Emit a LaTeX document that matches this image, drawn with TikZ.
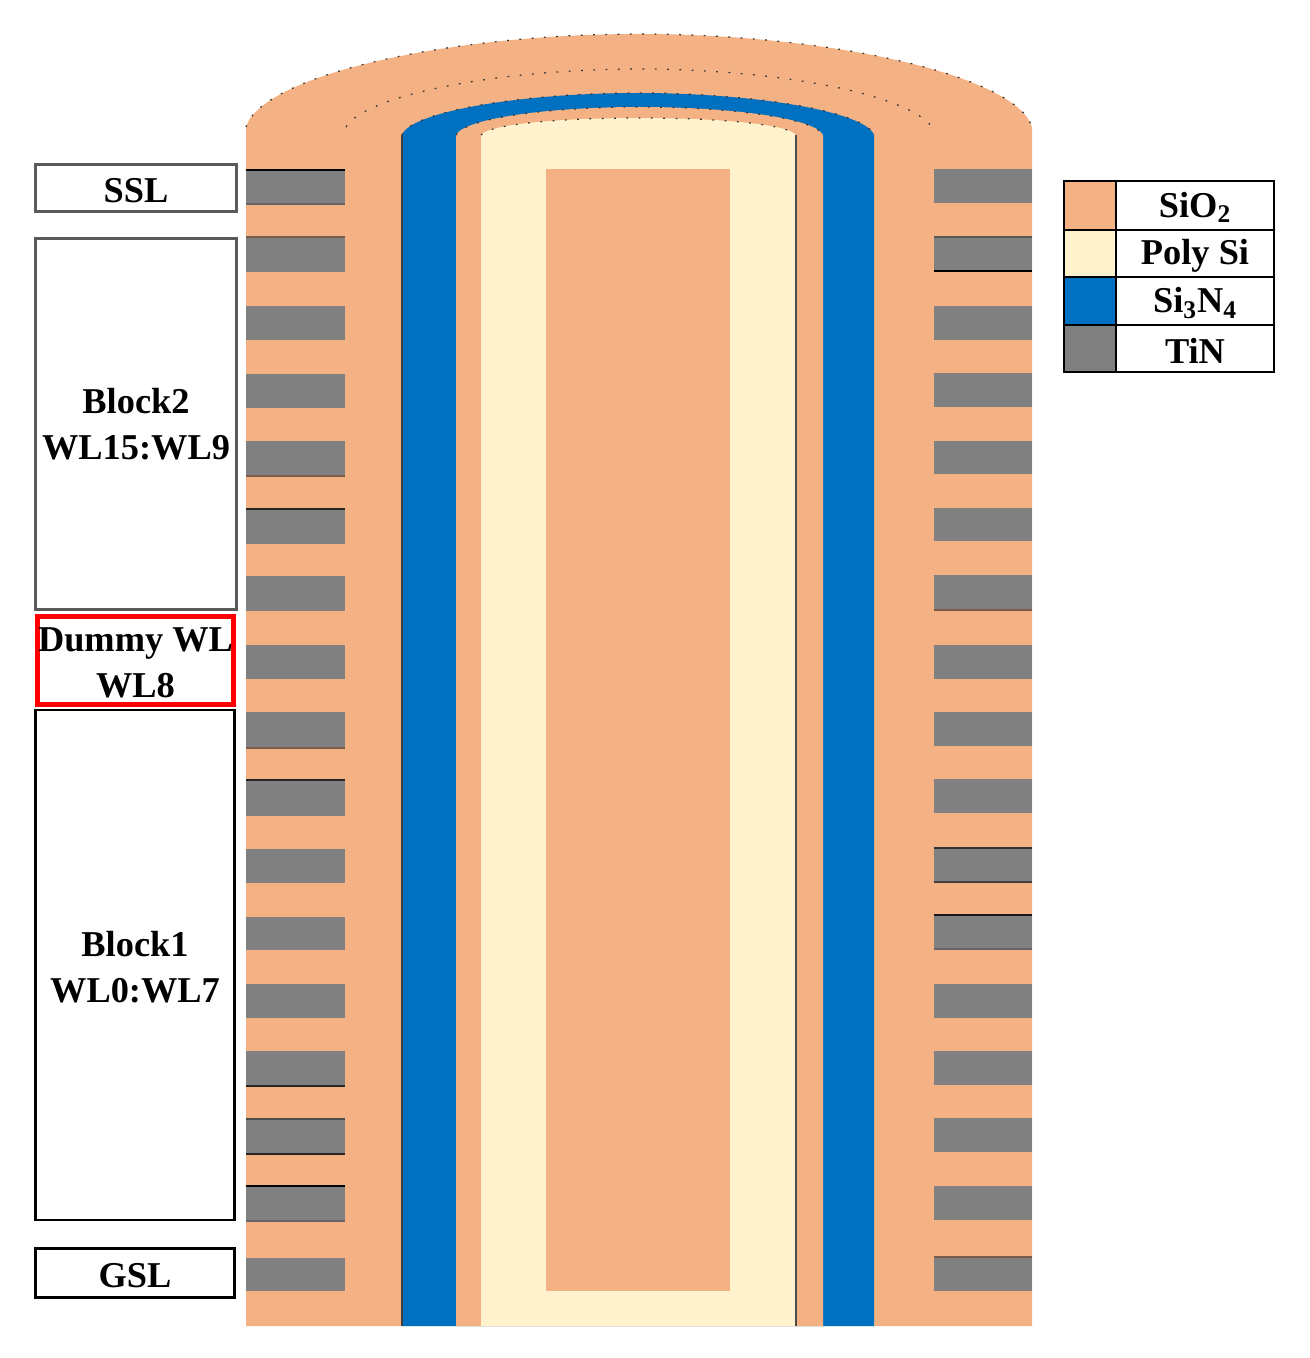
\documentclass[tikz,border=0pt]{standalone}
\usepackage{fontspec}
\setmainfont{Liberation Serif}
\definecolor{oxide}{HTML}{F4B183}
\definecolor{poly}{HTML}{FFF2CC}
\definecolor{nitride}{HTML}{0070C0}
\definecolor{metal}{HTML}{808080}
\definecolor{rust}{HTML}{7A5A48}
\tikzset{
  wlbox/.style={draw=black, line width=0.05cm, fill=white, inner sep=0pt, align=center,
    font=\fontsize{20.7}{26}\selectfont\bfseries, execute at begin node={\rule{0pt}{0.8em}}},
  swatch/.style={draw=black, line width=0.05cm, minimum width=1.04cm, inner sep=0pt},
  keybox/.style={wlbox, minimum width=3.16cm},
  domeedge/.style={black!80, line width=0.7pt, dash pattern=on 1pt off 6pt}
}
\begin{document}
\begin{tikzpicture}[x=0.02cm, y=-0.02cm]
        \useasboundingbox (0,0) rectangle (1310,1358);
        % Oxide body
        \fill[oxide] (246,1326) -- (246,127) .. controls (262,75) and (450,34) .. (639,34)
          .. controls (828,34) and (1016,75) .. (1032,127) -- (1032,1326) -- cycle;
        \draw[domeedge] (246,127) .. controls (262,75) and (450,34) .. (639,34)
          .. controls (828,34) and (1016,75) .. (1032,127);
        \draw[domeedge] (346,127) .. controls (365,95) and (500,69) .. (639,69)
          .. controls (778,69) and (915,95) .. (934,130);
        % Nitride
        \fill[nitride] (402,1326) -- (402,135) .. controls (410,112) and (520,93) .. (638,93)
          .. controls (756,93) and (866,112) .. (874,135) -- (874,1326) -- cycle;
        \draw[domeedge] (402,135) .. controls (410,112) and (520,93) .. (638,93)
          .. controls (756,93) and (866,112) .. (874,135);
        \draw[black!75, line width=0.7pt] (402,135) -- (402,1326);
        % Inner oxide
        \fill[oxide] (456,1326) -- (456,135) .. controls (465,118) and (550,107) .. (640,107)
          .. controls (730,107) and (815,118) .. (823,135) -- (823,1326) -- cycle;
        \draw[domeedge] (456,135) .. controls (465,118) and (550,107) .. (640,107)
          .. controls (730,107) and (815,118) .. (823,135);
        % Poly channel
        \fill[poly] (481,1326) -- (481,135) .. controls (490,124) and (560,118) .. (639,118)
          .. controls (718,118) and (788,124) .. (796,135) -- (796,1326) -- cycle;
        \draw[domeedge] (481,135) .. controls (490,124) and (560,118) .. (639,118)
          .. controls (718,118) and (788,124) .. (796,135);
        \draw[black!70, line width=0.7pt] (796,135) -- (796,1326);
        % Core
        \fill[oxide] (546,169) rectangle (730,1291);
        % Left gates
        \foreach \ytop/\ybot in {169/205, 237/272, 306/340, 374/408, 441/476, 509/544, 576/611,
          645/679, 712/748, 780/816, 849/883, 917/950, 984/1018, 1051/1086, 1119/1154,
          1186/1221, 1258/1291}
          \fill[metal] (246,\ytop) rectangle (345,\ybot);
        % Right gates
        \foreach \ytop/\ybot in {169/203, 237/271, 306/340, 373/407, 441/474, 508/541, 575/610,
          645/679, 712/746, 779/813, 848/882, 915/949, 984/1018, 1051/1085, 1118/1152,
          1186/1220, 1257/1291}
          \fill[metal] (934,\ytop) rectangle (1032,\ybot);
        % Dark gate edges
        \foreach \y/\col in {170/black, 204/black!60, 237/rust, 476/rust, 509/black!85, 748/rust,
          780/black!85, 1086/black!85, 1119/black!70, 1154/black!85, 1186/black, 1221/black!60}
          \draw[\col, line width=0.9pt] (246,\y) -- (345,\y);
        \foreach \y/\col in {237/black!65, 271/black, 610/rust, 848/black!80, 882/black!75,
          915/black!90, 949/black!60, 1257/rust}
          \draw[\col, line width=0.9pt] (934,\y) -- (1032,\y);
        % Word line labels
        \node[wlbox, draw=black!65, minimum width=4.02cm, minimum height=0.94cm] (ssl) at (136,188) {SSL};
        \node[wlbox, draw=black!65, minimum width=4.02cm, minimum height=7.42cm] (blocktwo) at (136,424) {\rule{0pt}{0.72em}Block2\\WL15:WL9};
        \node[wlbox, minimum width=3.92cm, minimum height=1.76cm, draw=red, line width=0.1cm] (dummy) at (135.5,660.5) {\rule{0pt}{0.78em}Dummy WL\\WL8};
        \node[wlbox, minimum width=3.98cm, minimum height=10.2cm] (blockone) at (135,965) {\rule{0pt}{0.83em}Block1\\WL0:WL7};
        \node[wlbox, minimum width=3.98cm, minimum height=0.98cm] (gsl) at (135,1273) {GSL};
        % Legend
        \node[swatch, fill=oxide, minimum height=0.98cm] (keyoxide) at (1090,205.5) {};
        \node[swatch, fill=poly, minimum height=0.94cm] (keypoly) at (1090,253.5) {};
        \node[swatch, fill=nitride, minimum height=0.96cm] (keynitride) at (1090,301) {};
        \node[swatch, fill=metal, minimum height=0.94cm] (keymetal) at (1090,348.5) {};
        \node[keybox, minimum height=0.98cm] (oxidename) at (1195,205.5) {SiO$_{\mathbf{2}}$};
        \node[keybox, minimum height=0.94cm] (polyname) at (1195,253.5) {Poly Si};
        \node[keybox, minimum height=0.96cm] (nitridename) at (1195,301) {Si$_{\mathbf{3}}$N$_{\mathbf{4}}$};
        \node[keybox, minimum height=0.94cm] (metalname) at (1195,348.5) {TiN};
      \end{tikzpicture}
\end{document}
